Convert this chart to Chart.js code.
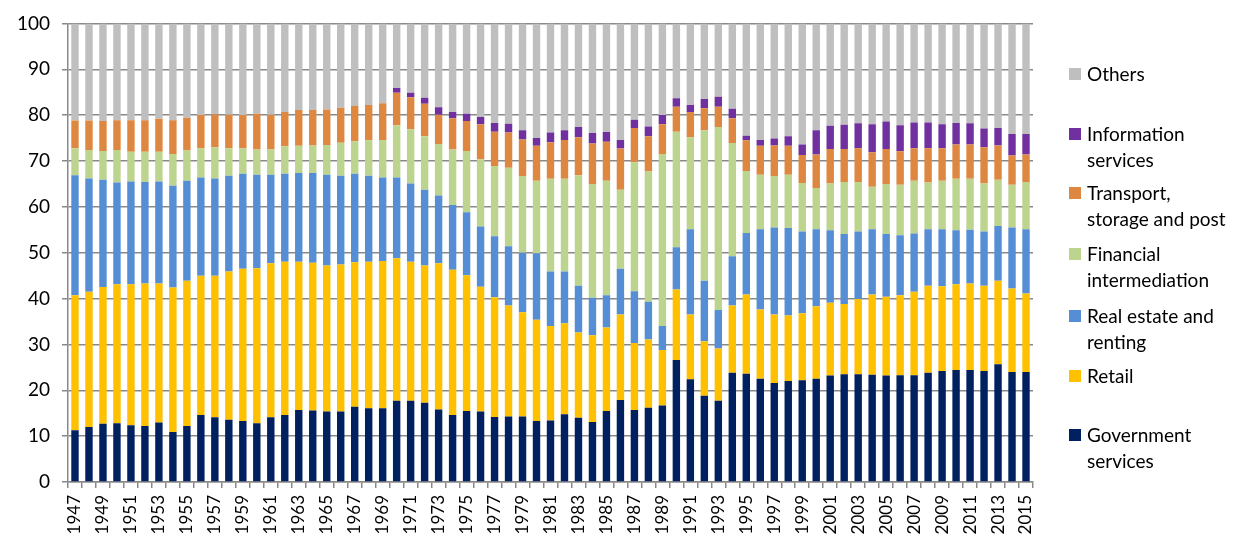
<!DOCTYPE html>
<html>
<head>
<meta charset="utf-8">
<script src="https://cdn.jsdelivr.net/npm/chart.js@4"></script>
<style>
  body { margin: 0; background: #fff; }
  #wrap { position: relative; width: 1234px; height: 536px; overflow: hidden; }
  #legend { position: absolute; left: 0; top: 0; width: 1234px; }
  .item { position: absolute; left: 1069px; width: 170px; font-family: Lato, sans-serif; font-size: 19px; line-height: 26px; color: #000; white-space: pre; }
  .item span.box { position: absolute; left: 0; top: 7px; width: 12px; height: 12px; }
  .item span.txt { display: block; margin-left: 18px; }
</style>
</head>
<body>
<div id="wrap">
  <canvas id="myChart" width="1234" height="536"></canvas>
  <div id="legend"></div>
</div>
<script>
// anos
const anos = [];
for (let a = 1947; a <= 2015; a++) anos.push(String(a));

// valores (% por setor)
const governo = [11.3, 12.0, 12.7, 12.8, 12.4, 12.2, 13.0, 10.9, 12.2, 14.6, 14.1, 13.6, 13.3, 12.8, 14.1, 14.6, 15.7, 15.6, 15.4, 15.4,
  16.4, 16.1, 16.1, 17.7, 17.7, 17.3, 15.8, 14.6, 15.5, 15.4, 14.2, 14.3, 14.3, 13.3, 13.4, 14.8, 14.0, 13.1, 15.5, 17.9,
  15.7, 16.2, 16.7, 26.6, 22.4, 18.8, 17.7, 23.8, 23.6, 22.5, 21.6, 22.0, 22.2, 22.5, 23.2, 23.5, 23.5, 23.4, 23.2, 23.3,
  23.3, 23.8, 24.2, 24.4, 24.4, 24.2, 25.7, 24.0, 24.0];
const varejo = [29.4, 29.5, 29.8, 30.3, 30.7, 31.1, 30.3, 31.5, 31.7, 30.4, 30.9, 32.3, 33.2, 33.8, 33.6, 33.4, 32.3, 32.2, 31.8, 32.0,
  31.5, 31.9, 32.1, 31.1, 30.3, 29.9, 31.9, 31.7, 29.6, 27.2, 26.1, 24.2, 22.7, 22.1, 20.6, 19.8, 18.6, 18.9, 18.2, 18.6,
  14.6, 14.9, 12.1, 15.4, 14.1, 11.9, 11.4, 14.7, 17.3, 15.1, 14.9, 14.3, 14.6, 15.8, 15.9, 15.3, 16.4, 17.5, 17.2, 17.4,
  18.2, 19.0, 18.5, 18.7, 18.9, 18.6, 18.2, 18.2, 17.1];
const imobiliario = [26.2, 24.7, 23.4, 22.2, 22.4, 22.1, 22.2, 22.2, 21.8, 21.4, 21.2, 20.9, 20.7, 20.4, 19.3, 19.2, 19.4, 19.6, 19.8, 19.4,
  19.3, 18.8, 18.2, 17.6, 17.1, 16.5, 14.8, 14.1, 13.7, 13.1, 13.3, 12.9, 13.0, 14.5, 11.9, 11.3, 10.2, 8.2, 7.0, 10.0,
  11.3, 8.2, 5.2, 9.2, 18.6, 13.2, 8.4, 10.7, 13.4, 17.5, 19.0, 19.1, 17.8, 16.8, 15.8, 15.3, 14.7, 14.2, 13.7, 13.1,
  12.7, 12.3, 12.4, 11.8, 11.7, 11.8, 11.9, 13.3, 14.0];
const financeiro = [5.9, 6.2, 6.3, 7.1, 6.5, 6.6, 6.5, 6.9, 6.6, 6.4, 6.8, 6.0, 5.6, 5.5, 5.5, 6.0, 5.9, 6.0, 6.5, 7.2,
  7.1, 7.7, 8.2, 11.4, 11.8, 11.7, 11.2, 12.1, 13.4, 14.7, 15.3, 17.1, 16.7, 15.8, 20.2, 20.2, 24.1, 24.8, 25.0, 17.2,
  28.1, 28.4, 37.5, 25.2, 20.1, 32.8, 39.9, 24.7, 13.5, 11.9, 11.2, 11.6, 10.6, 9.0, 10.2, 11.3, 10.8, 9.3, 10.9, 11.0,
  11.5, 10.2, 10.6, 11.2, 11.1, 10.5, 10.1, 9.3, 10.3];
const transporte = [6.0, 6.4, 6.5, 6.5, 6.9, 6.9, 7.2, 7.4, 7.1, 7.2, 7.2, 7.3, 7.2, 7.8, 7.6, 7.5, 7.8, 7.7, 7.7, 7.6,
  7.7, 7.7, 8.0, 7.1, 7.0, 7.1, 6.4, 6.8, 6.5, 7.6, 7.5, 7.7, 8.0, 7.6, 8.0, 8.5, 8.3, 8.8, 8.5, 9.0,
  7.5, 7.7, 6.5, 5.4, 5.5, 4.8, 4.4, 5.4, 6.7, 6.3, 6.7, 6.3, 6.1, 7.3, 7.5, 7.2, 7.4, 7.5, 7.6, 7.3,
  7.1, 7.5, 7.1, 7.5, 7.5, 7.9, 7.5, 6.4, 6.0];
const informacao = [0, 0, 0, 0, 0, 0, 0, 0, 0, 0, 0, 0, 0, 0, 0, 0, 0, 0, 0, 0,
  0, 0, 0, 1.0, 1.0, 1.3, 1.6, 1.4, 1.6, 1.6, 1.9, 1.9, 2.0, 1.7, 2.1, 2.1, 2.2, 2.3, 2.1, 1.9,
  1.8, 2.1, 2.0, 1.9, 1.5, 2.0, 2.2, 2.1, 1.0, 1.3, 1.5, 2.1, 2.3, 5.3, 5.1, 5.3, 5.4, 6.1, 6.0, 5.7,
  5.6, 5.6, 5.2, 4.7, 4.6, 4.1, 3.8, 4.7, 4.5];
const outros = [21.2, 21.2, 21.3, 21.1, 21.1, 21.1, 20.8, 21.1, 20.6, 20.0, 19.8, 19.9, 20.0, 19.7, 19.9, 19.3, 18.9, 18.9, 18.8, 18.4,
  18.0, 17.8, 17.4, 14.1, 15.1, 16.2, 18.3, 19.3, 19.7, 20.4, 21.7, 21.9, 23.3, 25.0, 23.8, 23.3, 22.6, 23.9, 23.7, 25.4,
  21.0, 22.5, 20.0, 16.3, 17.8, 16.5, 16.0, 18.6, 24.5, 25.4, 25.1, 24.6, 26.4, 23.3, 22.3, 22.1, 21.8, 22.0, 21.4, 22.2,
  21.6, 21.6, 22.0, 21.7, 21.8, 22.9, 22.8, 24.1, 24.1];

const marcasY = [0, 10, 20, 30, 40, 50, 60, 70, 80, 90, 100];

const series = [
  { label: 'Government services', legenda: 'Government\nservices', data: governo, cor: '#002060', topo: 422 },
  { label: 'Retail', legenda: 'Retail', data: varejo, cor: '#FFC000', topo: 363 },
  { label: 'Real estate and renting', legenda: 'Real estate and\nrenting', data: imobiliario, cor: '#558ED5', topo: 303 },
  { label: 'Financial intermediation', legenda: 'Financial\nintermediation', data: financeiro, cor: '#BDD48F', topo: 241 },
  { label: 'Transport, storage and post', legenda: 'Transport,\nstorage and post', data: transporte, cor: '#DE8741', topo: 180 },
  { label: 'Information services', legenda: 'Information\nservices', data: informacao, cor: '#7030A0', topo: 121 },
  { label: 'Others', legenda: 'Others', data: outros, cor: '#BFBFBF', topo: 61 }
];

const cinza = '#898989';

const ctx = document.getElementById('myChart').getContext('2d');
const myChart = new Chart(ctx, {
  type: 'bar',
  data: {
    labels: anos,
    datasets: series.map(s => ({
      label: s.label,
      data: s.data,
      backgroundColor: s.cor,
      borderWidth: 0,
      barPercentage: 1,
      categoryPercentage: 0.53
    }))
  },
  options: {
    responsive: false,
    animation: false,
    layout: { padding: { top: 22, right: 201, bottom: 0, left: 0 } },
    plugins: { legend: { display: false }, tooltip: { enabled: false } },
    scales: {
      x: {
        stacked: true,
        offset: true,
        afterFit: (s) => { s.height = 54; },
        grid: { drawOnChartArea: false, drawTicks: true, tickLength: 6, color: cinza, lineWidth: 1.5 },
        border: { color: cinza, width: 1.5 },
        ticks: {
          autoSkip: false,
          minRotation: 90,
          maxRotation: 90,
          padding: 7,
          color: '#000',
          font: { family: 'Lato', size: 17 },
          callback: function(v, i) { return i % 2 === 0 ? anos[i] : ''; }
        }
      },
      y: {
        stacked: true,
        min: 0,
        max: 100,
        afterFit: (s) => { s.width = 68; },
        afterBuildTicks: (s) => { s.ticks = marcasY.map(v => ({ value: v })); },
        grid: { color: cinza, lineWidth: 1.5, tickLength: 6 },
        border: { color: cinza, width: 1.5 },
        ticks: {
          padding: 12,
          color: '#000',
          font: { family: 'Lato', size: 19 }
        }
      }
    }
  }
});

// legenda em HTML (texto em várias linhas como no original)
const leg = document.getElementById('legend');
series.forEach(s => {
  const d = document.createElement('div');
  d.className = 'item';
  d.style.top = s.topo + 'px';
  d.innerHTML = '<span class="box" style="background:' + s.cor + '"></span><span class="txt"></span>';
  d.querySelector('.txt').textContent = s.legenda;
  leg.appendChild(d);
});
</script>
</body>
</html>
